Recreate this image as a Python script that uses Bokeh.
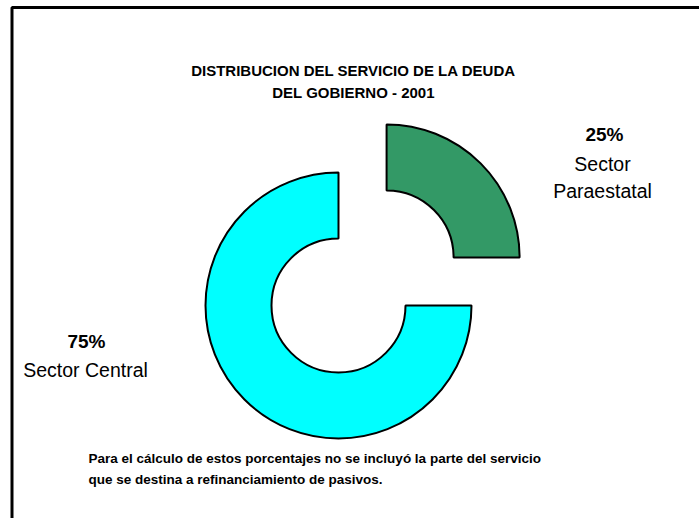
import math
from bokeh.plotting import figure
from bokeh.models import Range1d, ColumnDataSource
from bokeh.core.properties import value
from bokeh.embed import file_html
from bokeh.resources import INLINE

# ---- data ----
categories = ["Sector Paraestatal", "Sector Central"]
short_names = ["Sector\nParaestatal", "Sector Central"]
percentages = [25, 75]
colors = ["#339966", "#00FFFF"]
explode = [68, 0]  # px offset of each slice along its mid angle

title_lines = ["DISTRIBUCION DEL SERVICIO DE LA DEUDA", "DEL GOBIERNO - 2001"]
note_lines = [
    "Para el cálculo de estos porcentajes no se incluyó la parte del servicio",
    "que se destina a refinanciamiento de pasivos.",
]

W, H = 699, 518
FONT = value("Liberation Sans")


def Y(py):
    return H - py


p = figure(width=W, height=H, output_backend="svg", toolbar_location=None,
           x_range=Range1d(0, W), y_range=Range1d(0, H),
           min_border=0, min_border_left=0, min_border_right=0,
           min_border_top=0, min_border_bottom=0)
p.axis.visible = False
p.grid.visible = False
p.outline_line_color = None
p.background_fill_color = "white"
p.border_fill_color = "white"

# frame
p.quad(left=[11.5], right=[W + 20], top=[Y(7)], bottom=[-20],
       fill_alpha=0, line_color="black", line_width=3)

# donut
cx, cy = 338, Y(305)
R_out, R_in = 133, 67
total = float(sum(percentages))
start = math.pi / 2
xs, ys, starts, ends = [], [], [], []
for v, e in zip(percentages, explode):
    sweep = 2 * math.pi * v / total
    end = start - sweep
    mid = (start + end) / 2
    xs.append(cx + e * math.cos(mid))
    ys.append(cy + e * math.sin(mid))
    starts.append(start)
    ends.append(end)
    start = end

src = ColumnDataSource(dict(x=xs, y=ys, s=starts, e=ends, c=colors))
p.annular_wedge(x="x", y="y", inner_radius=R_in, outer_radius=R_out,
                start_angle="s", end_angle="e", direction="clock",
                fill_color="c", line_color="black", line_width=2, source=src)

# title
p.text(x=[353, 353], y=[Y(70), Y(92)], text=title_lines, text_font=FONT,
       text_font_size="15px", text_font_style="bold", text_align="center",
       text_baseline="alphabetic", text_color="black")

# slice labels
pct_txt = [f"{v}%" for v in percentages]
p.text(x=[604, 86], y=[Y(134), Y(341)], text=pct_txt, text_font=FONT,
       text_font_size="19px", text_font_style="bold", text_align="center",
       text_baseline="alphabetic", text_color="black")
name_lines_x, name_lines_y, name_lines_t = [], [], []
label_pos = [(602, 163), (85, 369)]
for (lx, ly), nm in zip(label_pos, short_names):
    for k, part in enumerate(nm.split("\n")):
        name_lines_x.append(lx)
        name_lines_y.append(Y(ly + 27 * k))
        name_lines_t.append(part)
p.text(x=name_lines_x, y=name_lines_y, text=name_lines_t, text_font=FONT,
       text_font_size="19.5px", text_align="center",
       text_baseline="alphabetic", text_color="black")

# footnote
p.text(x=[88, 88], y=[Y(458), Y(479)], text=note_lines, text_font=FONT,
       text_font_size="13.5px", text_font_style="bold", text_align="left",
       text_baseline="alphabetic", text_color="black")

open("out.html", "w").write(file_html(p, INLINE))
